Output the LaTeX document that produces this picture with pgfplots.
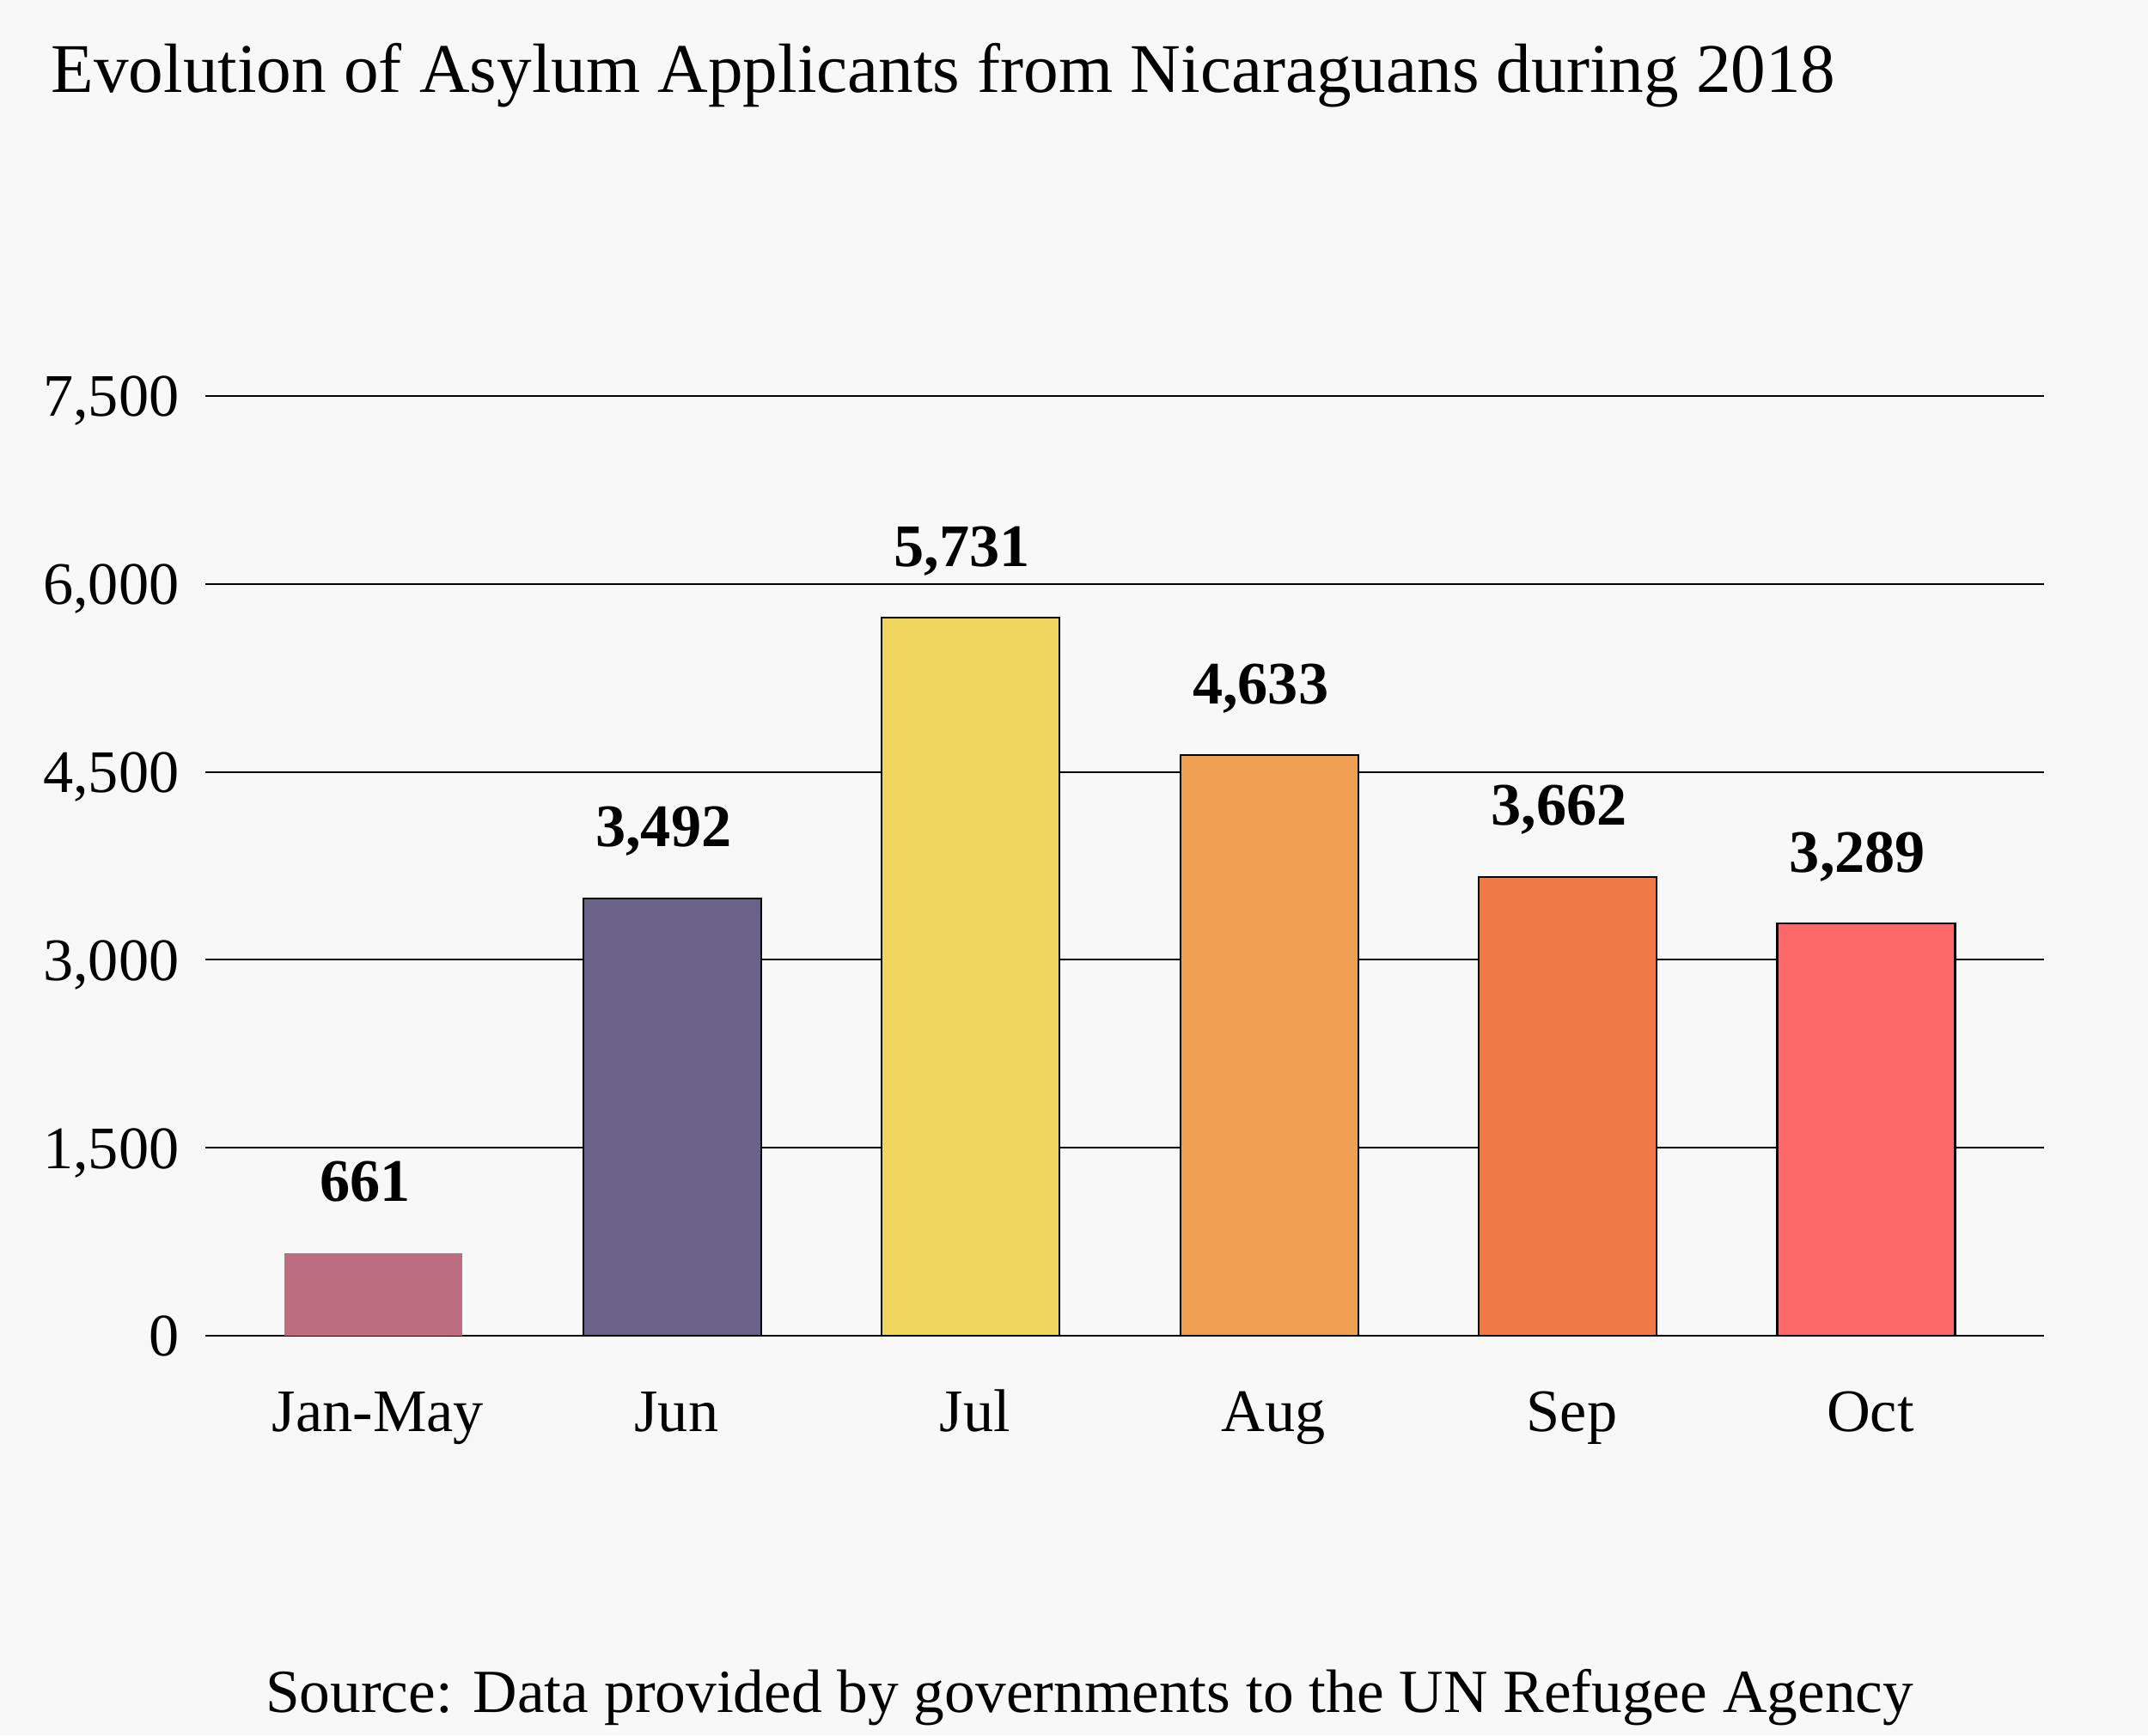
\documentclass[border=0pt]{standalone}
\usepackage{fontspec}
\setmainfont{Liberation Serif}
\usepackage{pgfplots}
\pgfplotsset{compat=1.18}

\definecolor{bg}{HTML}{F8F8F8}
\definecolor{cJanMay}{HTML}{BC6E80}
\definecolor{cJun}{HTML}{6B6288}
\definecolor{cJul}{HTML}{F0D65E}
\definecolor{cAug}{HTML}{F0A052}
\definecolor{cSep}{HTML}{EF7A48}
\definecolor{cOct}{HTML}{FC6868}

\begin{document}
\begin{tikzpicture}[x=1cm,y=1cm]
\fill[bg] (0,0) rectangle (25,20.2);
\useasboundingbox (0,0) rectangle (25,20.2);

\node[anchor=base west, inner sep=0pt, font=\fontsize{23.1}{27}\selectfont]
  at (0.59,19.12) {Evolution of Asylum Applicants from Nicaraguans during 2018};
\node[anchor=base, inner sep=0pt, font=\fontsize{20.3}{24}\selectfont]
  at (12.68,0.27) {Source: Data provided by governments to the UN Refugee Agency};

\begin{axis}[
  at={(2.39cm,4.65cm)}, anchor=south west,
  scale only axis, width=21.4cm, height=10.94cm,
  ybar, bar width=2.07cm, bar shift=0pt,
  xmin=-0.564, xmax=5.596,
  ymin=0, ymax=7500,
  xtick={0,...,5},
  xticklabels={Jan-May,Jun,Jul,Aug,Sep,Oct},
  ytick={0,1500,...,7500},
  ymajorgrids,
  major grid style={black, line width=0.6pt},
  axis line style={draw=none},
  major tick length=0pt,
  tick label style={font=\fontsize{20}{24}\selectfont},
  xticklabel style={anchor=base, yshift=-1.11cm, xshift=0.05cm},
  yticklabel style={anchor=base east, inner sep=0pt, xshift=-0.3cm, yshift=-6.8pt},
  /pgf/number format/1000 sep={,},
  /pgf/number format/assume math mode=true,
  nodes near coords,
  every node near coord/.append style={font=\bfseries\fontsize{20}{24}\selectfont,
    anchor=base, inner sep=0pt, yshift=0.6cm, xshift=-0.1cm, black},
  clip=false,
]
\addplot[fill=cJanMay, draw=none] coordinates {(0,661)};
\addplot[fill=cJun, draw=black, line width=0.6pt] coordinates {(1,3492)};
\addplot[fill=cJul, draw=black, line width=0.6pt] coordinates {(2,5731)};
\addplot[fill=cAug, draw=black, line width=0.6pt] coordinates {(3,4633)};
\addplot[fill=cSep, draw=black, line width=0.6pt] coordinates {(4,3662)};
\addplot[fill=cOct, draw=black, line width=0.6pt] coordinates {(5,3289)};
\end{axis}
\end{tikzpicture}
\end{document}
